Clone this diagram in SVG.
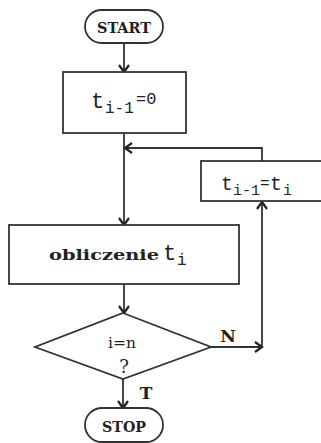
<svg xmlns="http://www.w3.org/2000/svg" width="321" height="443" viewBox="0 0 321 443">
<defs>
<style>
.sh{fill:#fff;stroke:#333;stroke-width:1.8}
.ln{fill:none;stroke:#333;stroke-width:1.8}
.t{font-family:"DejaVu Serif","Liberation Serif",serif;fill:#222}
.m{font-family:"Liberation Mono","DejaVu Sans Mono",monospace;fill:#222}
.b{font-weight:bold}
</style>
<marker id="ar" markerWidth="12" markerHeight="12" refX="9" refY="6" orient="auto" markerUnits="userSpaceOnUse">
<path d="M2,1 L9,6 L2,11" fill="none" stroke="#222" stroke-width="2.2"/>
</marker>
</defs>
<rect width="321" height="443" fill="#fff"/>
<g id="connectors">
<path class="ln" d="M124,43 V72" marker-end="url(#ar)"/>
<path class="ln" d="M124,133 V225" marker-end="url(#ar)"/>
<path class="ln" d="M262,161 V148 H125" marker-end="url(#ar)"/>
<path class="ln" d="M124,284 V313" marker-end="url(#ar)"/>
<path class="ln" d="M211,347 H262" marker-end="url(#ar)"/>
<path class="ln" d="M262,347 V202" marker-end="url(#ar)"/>
<path class="ln" d="M123,379 V408" marker-end="url(#ar)"/>
<text class="t b" x="228" y="342" font-size="17" text-anchor="middle">N</text>
<text class="t b" x="146" y="399" font-size="17" text-anchor="middle">T</text>
</g>
<g id="start">
<rect class="sh" x="85" y="10" width="78" height="33" rx="16.5"/>
<text class="t b" x="124" y="33" font-size="14" text-anchor="middle" textLength="54" lengthAdjust="spacingAndGlyphs">START</text>
</g>
<g id="init">
<rect class="sh" x="63" y="72" width="123" height="61"/>
<text class="m"><tspan x="91" y="108" font-size="22">t</tspan><tspan x="105" y="113" font-size="16">i-1</tspan><tspan x="136" y="104" font-size="17">=0</tspan></text>
</g>
<g id="update">
<rect class="sh" x="201" y="161" width="130" height="40"/>
<text class="m"><tspan x="221" y="190" font-size="20">t</tspan><tspan x="233" y="195" font-size="15">i-1</tspan><tspan x="260" y="188" font-size="16">=</tspan><tspan x="270" y="190" font-size="20">t</tspan><tspan x="283" y="195" font-size="15">i</tspan></text>
</g>
<g id="compute">
<rect class="sh" x="9" y="225" width="230" height="59"/>
<text class="t b" x="49" y="260" font-size="15" textLength="110" lengthAdjust="spacingAndGlyphs">obliczenie</text>
<text class="m"><tspan x="163" y="260" font-size="22">t</tspan><tspan x="177" y="265" font-size="16">i</tspan></text>
</g>
<g id="decision">
<path class="sh" d="M123,313 L211,347 L123,379 L35,347 Z"/>
<text class="t" x="122" y="348" font-size="14" text-anchor="middle" textLength="28" lengthAdjust="spacingAndGlyphs">i=n</text>
<text class="t" x="124" y="373" font-size="18" text-anchor="middle">?</text>
</g>
<g id="stop">
<rect class="sh" x="85" y="408" width="78" height="34" rx="17"/>
<text class="t b" x="124" y="432" font-size="14" text-anchor="middle" textLength="44" lengthAdjust="spacingAndGlyphs">STOP</text>
</g>
</svg>
